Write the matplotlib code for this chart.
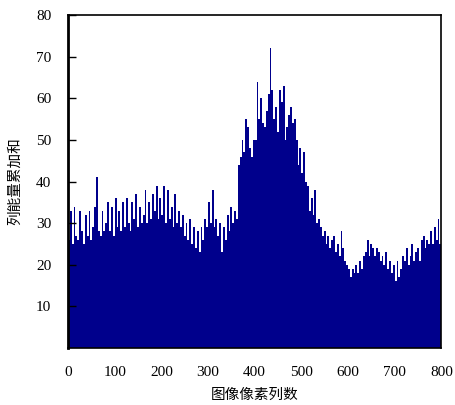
import numpy as np
import matplotlib
matplotlib.use("Agg")
import matplotlib.pyplot as plt

# Nilai: satu batang per 4 kolom piksel (0-800)
lebar_batang = 4
nilai_kolom = [
    26, 33, 25, 34, 27, 26, 33, 28, 25, 32,
    27, 33, 26, 29, 34, 41, 28, 27, 33, 28,
    30, 35, 28, 34, 27, 36, 29, 33, 28, 35,
    29, 36, 30, 28, 35, 31, 37, 29, 34, 30,
    32, 38, 30, 35, 31, 37, 33, 39, 31, 36,
    32, 39, 30, 38, 31, 34, 29, 37, 30, 33,
    29, 32, 27, 30, 26, 31, 25, 29, 24, 28,
    23, 29, 26, 31, 29, 35, 30, 38, 29, 31,
    27, 30, 23, 29, 26, 32, 28, 34, 30, 33,
    31, 44, 46, 50, 47, 55, 53, 48, 46, 50,
    50, 64, 55, 60, 54, 53, 57, 61, 72, 62,
    55, 58, 52, 62, 59, 63, 50, 53, 56, 58,
    54, 55, 50, 44, 48, 42, 47, 40, 39, 33,
    36, 32, 38, 30, 31, 29, 27, 28, 25, 27,
    24, 26, 27, 23, 25, 22, 28, 24, 21, 20,
    19, 17, 19, 18, 20, 18, 21, 19, 22, 23,
    26, 22, 25, 24, 22, 24, 23, 21, 22, 20,
    23, 19, 21, 18, 20, 16, 21, 17, 19, 22,
    21, 24, 20, 22, 25, 21, 23, 24, 21, 26,
    27, 24, 26, 25, 28, 25, 29, 26, 31, 25,
]
posisi_kolom = np.arange(len(nilai_kolom)) * lebar_batang

y_ticks = [10, 20, 30, 40, 50, 60, 70, 80]
x_ticks = [0, 100, 200, 300, 400, 500, 600, 700, 800]

label_x = "图像像素列数"
label_y = "列能量累加和"

fig = plt.figure(figsize=(4.55, 4.05), dpi=100)
ax = fig.add_axes([0.1495, 0.1407, 0.8205, 0.822])

ax.bar(posisi_kolom, nilai_kolom, width=lebar_batang, align="edge",
       color="#00008c", edgecolor="none", linewidth=0)

ax.set_xlim(0, 800)
ax.set_ylim(0, 80)
ax.set_yticks(y_ticks)
ax.set_xticks(x_ticks)

font_angka = {"family": "Liberation Serif", "size": 11}
ax.set_yticklabels([str(v) for v in y_ticks], fontdict=font_angka)
ax.set_xticklabels([str(v) for v in x_ticks], fontdict=font_angka)

ax.tick_params(axis="y", direction="in", length=6, width=1, pad=12, left=True, right=False)
ax.tick_params(axis="x", length=0, pad=13)

for s in ax.spines.values():
    s.set_linewidth(1.2)
    s.set_color("black")
ax.spines["left"].set_linewidth(2)

ax.set_xlabel(label_x, family=["Noto Sans CJK SC", "DejaVu Sans"], fontsize=10.5, labelpad=6)
ax.set_ylabel(label_y, family=["Noto Sans CJK SC", "DejaVu Sans"], fontsize=10.5, labelpad=10)

fig.savefig("out.png", dpi=100)
